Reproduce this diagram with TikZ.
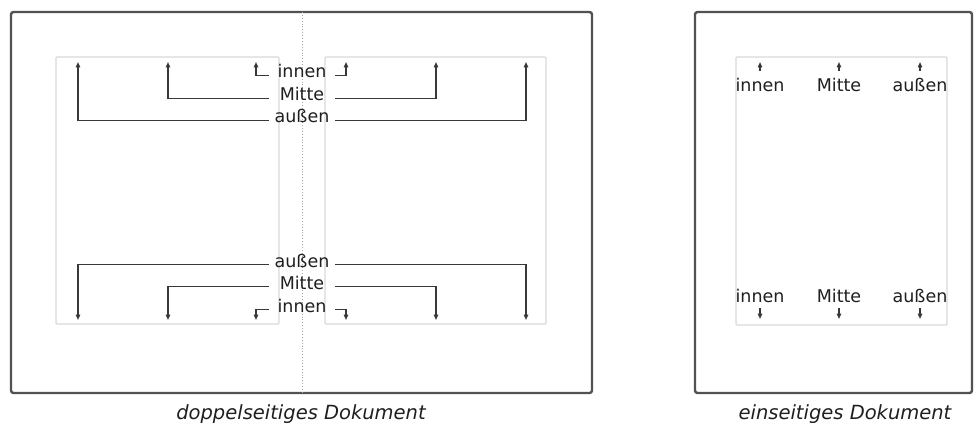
\documentclass[tikz,border=0pt]{standalone}
\usepackage{fontspec}
\setmainfont{DejaVu Sans}
\usetikzlibrary{arrows.meta}
\begin{document}
\begin{tikzpicture}[x=1pt,y=-1pt,
  frame/.style={draw=black!68,line width=2.4pt,rounded corners=2.5pt},
  pagebox/.style={draw=black!15,line width=1.3pt,rounded corners=1pt},
  arr/.style={draw=black!78,line width=1.5pt,-{Triangle[length=5.5pt,width=4.5pt]}},
  lbl/.style={font=\fontsize{17.5}{18}\selectfont,text=black!88,inner sep=0pt,anchor=base,minimum width=66pt},
  slbl/.style={font=\fontsize{17.5}{18}\selectfont,text=black!88,inner sep=0pt,anchor=base,text height=12pt,text depth=3pt},
  captxt/.style={font=\fontsize{19.5}{20}\selectfont\itshape,text=black!88,inner sep=0pt,anchor=base}]
\useasboundingbox (0,0) rectangle (979,425);
% left frame
\draw[frame] (11,12) rectangle (592,393);
\draw[black!35,line width=0.9pt,dotted] (302,12) -- (302,393);
\draw[pagebox] (56,57) rectangle (279,324);
\draw[pagebox] (325,57) rectangle (546,324);
% tips
\coordinate (tLo) at (78,62);
\coordinate (tLm) at (168,62);
\coordinate (tLi) at (256,62);
\coordinate (tRi) at (346,62);
\coordinate (tRm) at (436,62);
\coordinate (tRo) at (526,62);
\coordinate (bLo) at (78,320);
\coordinate (bLm) at (168,320);
\coordinate (bLi) at (256,320);
\coordinate (bRi) at (346,320);
\coordinate (bRm) at (436,320);
\coordinate (bRo) at (526,320);
% labels
\node[lbl] (ti) at (302,78) {innen};
\node[lbl] (tm) at (302,101) {Mitte};
\node[lbl] (to) at (302,123) {außen};
\node[lbl] (bo) at (302,267) {außen};
\node[lbl] (bm) at (302,289) {Mitte};
\node[lbl] (bi) at (302,312) {innen};
\draw[arr] (ti.mid west) -| (tLi);
\draw[arr] (ti.mid east) -| (tRi);
\draw[arr] (tm.mid west) -| (tLm);
\draw[arr] (tm.mid east) -| (tRm);
\draw[arr] (to.mid west) -| (tLo);
\draw[arr] (to.mid east) -| (tRo);
\draw[arr] (bo.mid west) -| (bLo);
\draw[arr] (bo.mid east) -| (bRo);
\draw[arr] (bm.mid west) -| (bLm);
\draw[arr] (bm.mid east) -| (bRm);
\draw[arr] (bi.mid west) -| (bLi);
\draw[arr] (bi.mid east) -| (bRi);
\node[captxt] (c1) at (301,419) {doppelseitiges Dokument};
% right frame
\draw[frame] (695,12) rectangle (972,393);
\draw[pagebox] (736,57) rectangle (947,325);
\node[slbl] (si) at (760,92) {innen};
\node[slbl] (sm) at (839,92) {Mitte};
\node[slbl] (so) at (920,92) {außen};
\node[slbl] (ui) at (760,302) {innen};
\node[slbl] (um) at (839,302) {Mitte};
\node[slbl] (uo) at (920,302) {außen};
\coordinate (sti) at (760,62);
\coordinate (stm) at (839,62);
\coordinate (sto) at (920,62);
\coordinate (ubi) at (760,319);
\coordinate (ubm) at (839,319);
\coordinate (ubo) at (920,319);
\draw[arr] ([yshift=9pt]si.north) -- (sti);
\draw[arr] ([yshift=9pt]sm.north) -- (stm);
\draw[arr] ([yshift=9pt]so.north) -- (sto);
\draw[arr] ([yshift=-3pt]ui.south) -- (ubi);
\draw[arr] ([yshift=-3pt]um.south) -- (ubm);
\draw[arr] ([yshift=-3pt]uo.south) -- (ubo);
\node[captxt] (c2) at (845,419) {einseitiges Dokument};
\end{tikzpicture}
\end{document}
